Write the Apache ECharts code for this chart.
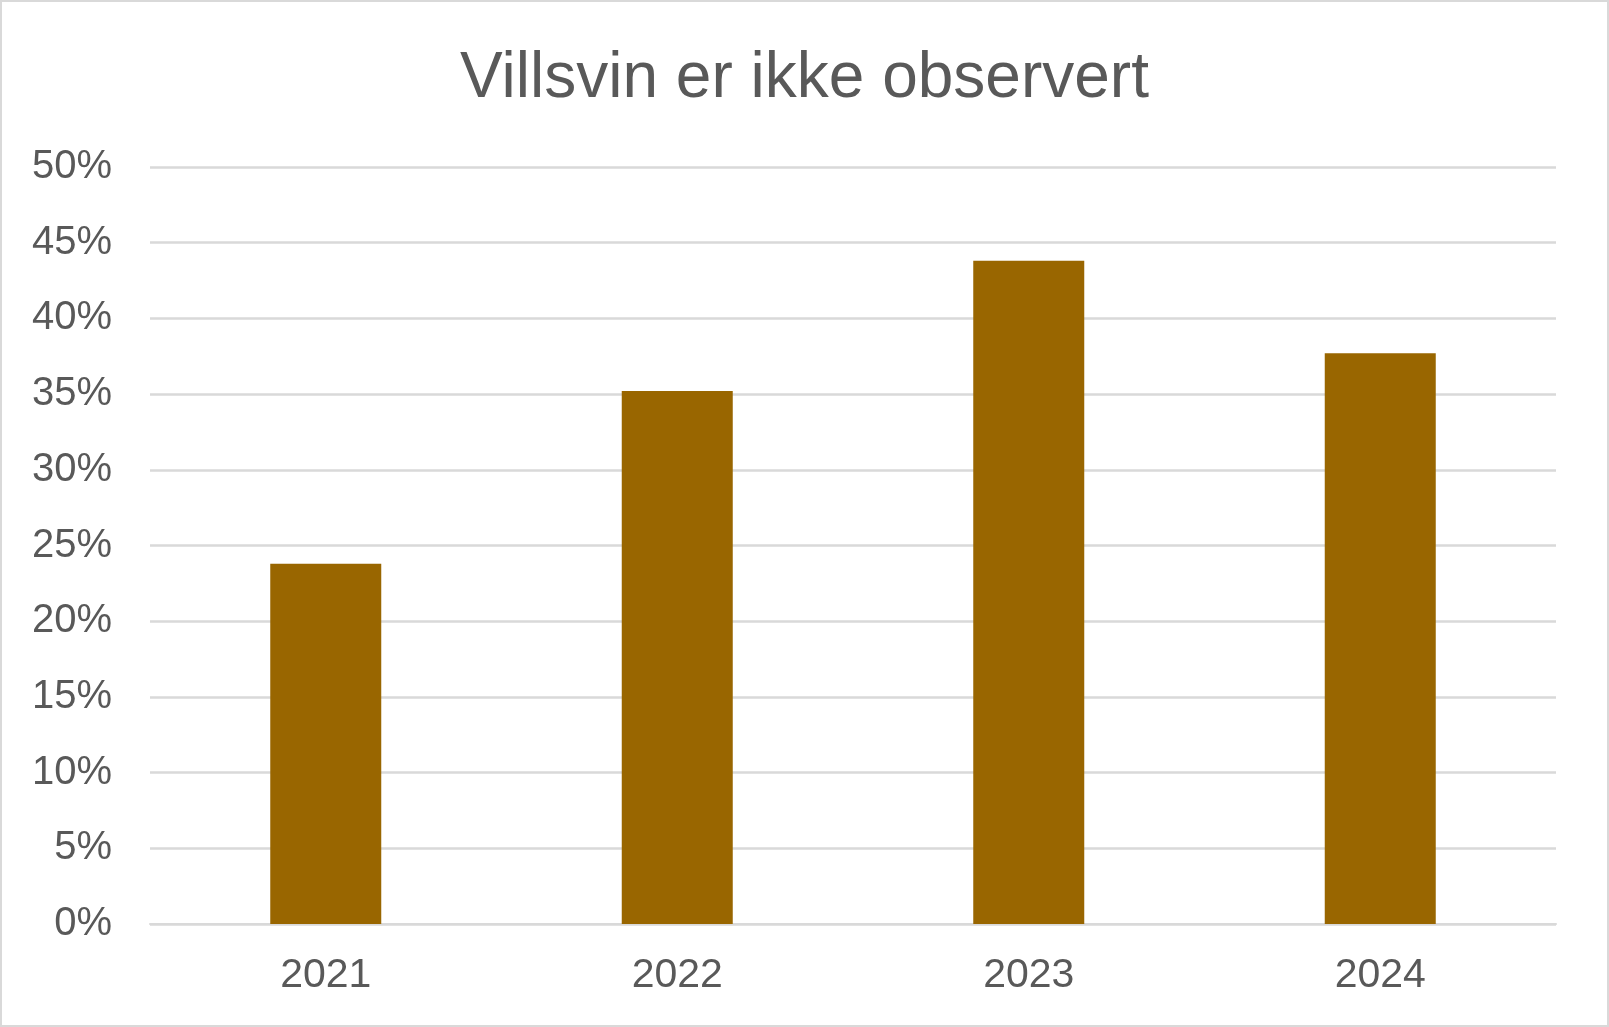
<!DOCTYPE html>
<html>
<head>
<meta charset="utf-8">
<script src="https://cdn.jsdelivr.net/npm/echarts@6/dist/echarts.min.js"></script>
<style>
  html, body { margin: 0; padding: 0; background: #fff; }
  #chart { width: 1609px; height: 1027px; box-sizing: border-box; border: 2px solid #d9d9d9; }
</style>
</head>
<body>
<div id="chart"></div>
<script>
// Villsvin er ikke observert - andel per år
var years = ['2021', '2022', '2023', '2024'];
var shares = [23.8, 35.2, 43.8, 37.7];
var titleText = 'Villsvin er ikke observert';

var chart = echarts.init(document.getElementById('chart'));

var option = {
  backgroundColor: '#fff',
  animation: false,
  title: {
    text: titleText,
    left: 'center',
    top: 40,
    textStyle: {
      fontFamily: 'Liberation Sans',
      fontSize: 64,
      fontWeight: 'normal',
      color: '#595959'
    }
  },
  grid: {
    left: 148,
    right: 51,
    top: 165,
    bottom: 101
  },
  xAxis: {
    type: 'category',
    data: years,
    axisTick: { show: false },
    axisLine: { lineStyle: { color: '#d9d9d9', width: 2 } },
    axisLabel: {
      margin: 31,
      fontFamily: 'Liberation Sans',
      fontSize: 41,
      color: '#595959'
    }
  },
  yAxis: {
    type: 'value',
    min: 0,
    max: 50,
    interval: 5,
    axisLine: { show: false },
    axisTick: { show: false },
    splitLine: { lineStyle: { color: '#d9d9d9', width: 2.5 } },
    axisLabel: {
      margin: 38,
      fontFamily: 'Liberation Sans',
      fontSize: 40,
      color: '#595959',
      formatter: '{value}%'
    }
  },
  series: [{
    type: 'bar',
    data: shares,
    barWidth: 111,
    itemStyle: { color: '#996600' }
  }]
};

chart.setOption(option);
</script>
</body>
</html>
